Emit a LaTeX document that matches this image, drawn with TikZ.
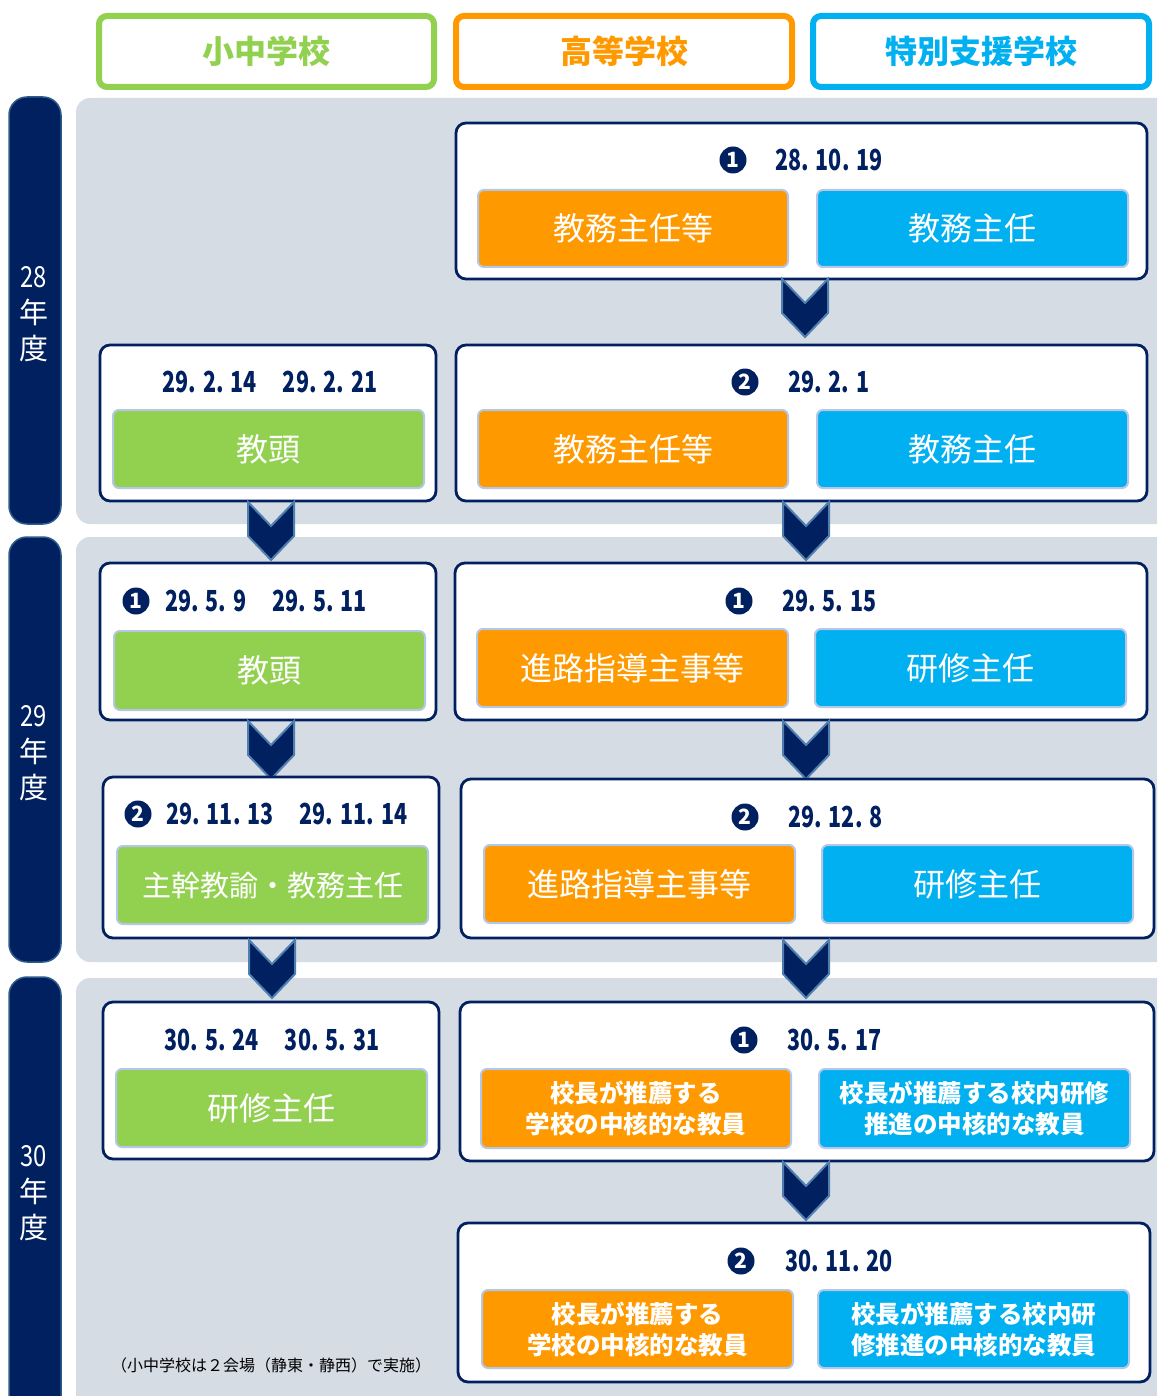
\documentclass[tikz,border=0pt]{standalone}
\usepackage{fontspec}
\newfontfamily\jp{Noto Sans CJK JP}
\newfontfamily\jpdate[FakeStretch=0.74]{Noto Sans CJK JP}
\newfontfamily\jpnum[FakeStretch=0.82]{Noto Sans CJK JP}
\definecolor{navy}{HTML}{002060}
\definecolor{cgreen}{HTML}{92D050}
\definecolor{corange}{HTML}{FF9900}
\definecolor{cblue}{HTML}{00B0F0}
\definecolor{panelgray}{HTML}{D6DCE4}
\definecolor{innerborder}{HTML}{B4C7E7}
\definecolor{chevborder}{HTML}{4F7FAF}
\definecolor{barborder}{HTML}{2E5C8A}
\newcommand\dsp{\hspace{7pt}}
\newcommand\rbox[7]{%
  \pgfmathsetmacro\rbCX{(#3+#5)/2}\pgfmathsetmacro\rbCY{(#4+#6)/2}%
  \pgfmathsetmacro\rbW{#5-#3}\pgfmathsetmacro\rbH{#6-#4}%
  \node[#2, minimum width=\rbW pt, minimum height=\rbH pt, inner sep=0pt] (#1) at (\rbCX,\rbCY) {#7};}
\tikzset{
  panel/.style={fill=panelgray, draw=none, rounded corners=14pt},
  yearbar/.style={fill=navy, draw=barborder, line width=1.5pt, rounded corners=18pt},
  yearlbl/.style={text=white, align=center, font=\jp\fontsize{29}{36}\selectfont},
  hdr/.style={draw=#1, line width=6pt, rounded corners=8pt, fill=white, text=#1, font=\jp\bfseries\fontsize{32}{32}\selectfont},
  wbox/.style={draw=navy, line width=2.8pt, fill=white, rounded corners=10pt},
  ibox/.style={fill=#1, draw=innerborder, line width=2pt, rounded corners=6pt, text=white, font=\jp\fontsize{32}{32}\selectfont},
  ibold/.style={fill=#1, draw=innerborder, line width=2pt, rounded corners=6pt, text=white, align=center, font=\jp\bfseries\fontsize{24.5}{31}\selectfont},
  num/.style={circle, fill=navy, minimum size=27pt, inner sep=0pt, text=white, font=\jp\bfseries\fontsize{21}{21}\selectfont},
  datetxt/.style={text=navy, inner sep=0pt, font=\jpdate\bfseries\fontsize{29}{29}\selectfont},
  chev/.style={fill=navy, draw=chevborder, line width=2pt, line join=miter},
  chevron/.pic={\path[chev] (-23,0) -- (0,24) -- (23,0) -- (23,34) -- (0,58) -- (-23,34) -- cycle;},
  note/.style={text=black, font=\jp\fontsize{16}{16}\selectfont}
}
\begin{document}
\begin{tikzpicture}[x=1pt,y=-1pt]
\clip (0,0) rectangle (1157,1396);
\fill[white] (0,0) rectangle (1157,1396);
% headers
\rbox{hg}{hdr=cgreen}{99}{16}{434}{87}{小中学校}
\rbox{ho}{hdr=corange}{456}{16}{792}{87}{高等学校}
\rbox{hb}{hdr=cblue}{813}{16}{1149}{87}{特別支援学校}
% panels
\path[panel] (76,98) rectangle (1185,524);
\path[panel] (76,537) rectangle (1185,962);
\path[panel] (76,978) rectangle (1185,1430);
% year bars
\path[yearbar] (9,97) rectangle (61,524);
\path[yearbar] (9,537) rectangle (61,962);
\path[yearbar] (9,977) rectangle (61,1440);
\node[yearlbl] (y28) at (34,314) {{\jpnum 28}\\年\\度};
\node[yearlbl] (y29) at (34,753) {{\jpnum 29}\\年\\度};
\node[yearlbl] (y30) at (34,1193) {{\jpnum 30}\\年\\度};
% ===== year 28
\rbox{a1}{wbox}{456}{123}{1147}{279}{}
\node[num] (a1n) at (733,160) {1};
\node[datetxt, anchor=west] (a1d) at (775,160) {28.\dsp 10.\dsp 19};
\rbox{a1o}{ibox=corange}{478}{190}{788}{267}{教務主任等}
\rbox{a1b}{ibox=cblue}{817}{190}{1128}{267}{教務主任}
\rbox{a2}{wbox}{456}{345}{1147}{501}{}
\node[num] (a2n) at (745,382) {2};
\node[datetxt, anchor=west] (a2d) at (788,382) {29.\dsp 2.\dsp 1};
\rbox{a2o}{ibox=corange}{478}{410}{788}{488}{教務主任等}
\rbox{a2b}{ibox=cblue}{817}{410}{1128}{488}{教務主任}
\rbox{b2}{wbox}{100}{345}{436}{501}{}
\node[datetxt] (b2d) at (270,382) {29.\dsp 2.\dsp 14\hspace{26pt}29.\dsp 2.\dsp 21};
\rbox{b2g}{ibox=cgreen}{113}{410}{424}{488}{教頭}
\pic at (805,279) {chevron};
\pic at (271,502) {chevron};
\pic at (806,502) {chevron};
% ===== year 29
\rbox{l1}{wbox}{100}{563}{436}{720}{}
\node[num] (l1n) at (136,601) {1};
\node[datetxt, anchor=west] (l1d) at (165,601) {29.\dsp 5.\dsp 9\hspace{26pt}29.\dsp 5.\dsp 11};
\rbox{l1g}{ibox=cgreen}{114}{631}{425}{710}{教頭}
\rbox{r1}{wbox}{455}{563}{1147}{720}{}
\node[num] (r1n) at (739,601) {1};
\node[datetxt, anchor=west] (r1d) at (782,601) {29.\dsp 5.\dsp 15};
\rbox{r1o}{ibox=corange}{477}{629}{788}{707}{進路指導主事等}
\rbox{r1b}{ibox=cblue}{815}{629}{1126}{707}{研修主任}
\pic at (271,721) {chevron};
\pic at (806,721) {chevron};
\rbox{l2}{wbox}{103}{777}{439}{938}{}
\node[num] (l2n) at (138,814) {2};
\node[datetxt, anchor=west] (l2d) at (166,814) {29.\dsp 11.\dsp 13\hspace{26pt}29.\dsp 11.\dsp 14};
\rbox{l2g}{ibox=cgreen, font=\jp\fontsize{29}{29}\selectfont}{117}{846}{428}{924}{主幹教諭・教務主任}
\rbox{r2}{wbox}{461}{779}{1154}{938}{}
\node[num] (r2n) at (745,817) {2};
\node[datetxt, anchor=west] (r2d) at (788,817) {29.\dsp 12.\dsp 8};
\rbox{r2o}{ibox=corange}{484}{845}{795}{923}{進路指導主事等}
\rbox{r2b}{ibox=cblue}{822}{845}{1133}{923}{研修主任}
\pic at (272,940) {chevron};
\pic at (806,940) {chevron};
% ===== year 30
\rbox{l3}{wbox}{103}{1002}{439}{1159}{}
\node[datetxt] (l3d) at (272,1040) {30.\dsp 5.\dsp 24\hspace{26pt}30.\dsp 5.\dsp 31};
\rbox{l3g}{ibox=cgreen}{116}{1069}{427}{1147}{研修主任}
\rbox{r3}{wbox}{460}{1002}{1154}{1161}{}
\node[num] (r3n) at (744,1040) {1};
\node[datetxt, anchor=west] (r3d) at (787,1040) {30.\dsp 5.\dsp 17};
\rbox{r3o}{ibold=corange}{481}{1069}{791}{1148}{校長が推薦する\\学校の中核的な教員}
\rbox{r3b}{ibold=cblue}{819}{1069}{1130}{1148}{校長が推薦する校内研修\\推進の中核的な教員}
\pic at (806,1162) {chevron};
\rbox{r4}{wbox}{458}{1223}{1150}{1382}{}
\node[num] (r4n) at (741,1261) {2};
\node[datetxt, anchor=west] (r4d) at (785,1261) {30.\dsp 11.\dsp 20};
\rbox{r4o}{ibold=corange}{482}{1290}{793}{1368}{校長が推薦する\\学校の中核的な教員}
\rbox{r4b}{ibold=cblue}{818}{1290}{1129}{1368}{校長が推薦する校内研\\修推進の中核的な教員}
\node[note] (nt) at (271,1365) {（小中学校は２会場（静東・静西）で実施）};
\end{tikzpicture}
\end{document}
